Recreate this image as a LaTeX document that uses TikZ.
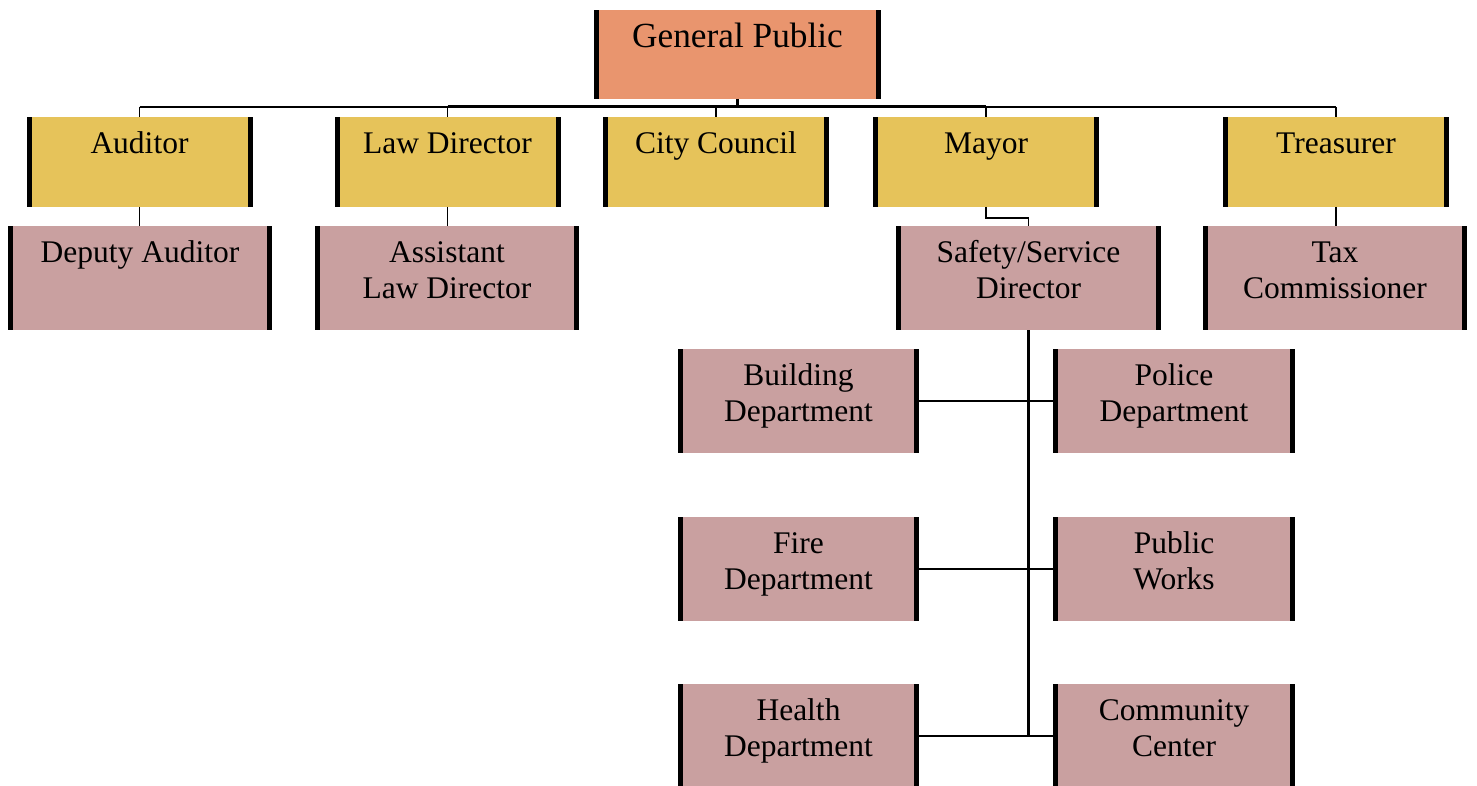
\documentclass[tikz,border=0pt]{standalone}
\usepackage{fontspec}
\setmainfont{Liberation Serif}
\definecolor{gpfill}{HTML}{E9956E}
\definecolor{offfill}{HTML}{E6C35A}
\definecolor{subfill}{HTML}{C9A0A0}
\begin{document}
\begin{tikzpicture}[x=1pt, y=-1pt,
  box/.style={inner sep=0pt, outer sep=0pt, draw=none},
  topbox/.style={box, fill=gpfill, minimum width=287pt, minimum height=89pt},
  offbox/.style={box, fill=offfill, minimum width=226pt, minimum height=90pt},
  subbox/.style={box, fill=subfill, minimum width=264pt, minimum height=104pt},
  deptbox/.style={box, fill=subfill, minimum width=241pt, minimum height=104pt},
  boxtext/.style={anchor=north, yshift=-14pt, inner sep=0pt, align=center,
    font=\fontsize{31.5}{36}\selectfont},
  toptext/.style={anchor=north, yshift=-13pt, inner sep=0pt, align=center,
    font=\fontsize{35.3}{40}\selectfont},
  thinline/.style={line width=1.6pt},
  thickline/.style={line width=3pt},
  midline/.style={line width=2pt}]
\useasboundingbox (0,0) rectangle (1477,786);
\fill[white] (0,0) rectangle (1477,786);

% top level
\node[topbox, label={[toptext]north:{\rule{0pt}{24pt}General Public}}] (gp) at (737.5,54.5) {};

% elected offices
\node[offbox, label={[boxtext]north:{\rule{0pt}{22pt}Auditor}}] (aud) at (139.5,162) {};
\node[offbox, label={[boxtext]north:{\rule{0pt}{22pt}Law Director}}] (law) at (447.5,162) {};
\node[offbox, label={[boxtext]north:{\rule{0pt}{22pt}City Council}}] (city) at (716,162) {};
\node[offbox, label={[boxtext]north:{\rule{0pt}{22pt}Mayor}}] (mayor) at (986,162) {};
\node[offbox, label={[boxtext]north:{\rule{0pt}{22pt}Treasurer}}] (treas) at (1336,162) {};

% deputies
\node[subbox, label={[boxtext]north:{\rule{0pt}{22pt}Deputy Auditor}}] (dep) at (140,278) {};
\node[subbox, label={[boxtext]north:{\rule{0pt}{22pt}Assistant\\Law Director}}] (asst) at (447,278) {};
\node[subbox, minimum width=265pt, label={[boxtext]north:{\rule{0pt}{22pt}Safety/Service\\Director}}] (safety) at (1028.5,278) {};
\node[subbox, label={[boxtext]north:{\rule{0pt}{22pt}Tax\\Commissioner}}] (tax) at (1335,278) {};

% departments
\node[deptbox, label={[boxtext]north:{\rule{0pt}{22pt}Building\\Department}}] (bldg) at (798.5,401) {};
\node[deptbox, minimum width=242pt, label={[boxtext]north:{\rule{0pt}{22pt}Police\\Department}}] (police) at (1174,401) {};
\node[deptbox, label={[boxtext]north:{\rule{0pt}{22pt}Fire\\Department}}] (fire) at (798.5,569) {};
\node[deptbox, minimum width=242pt, label={[boxtext]north:{\rule{0pt}{22pt}Public\\Works}}] (works) at (1174,569) {};
\node[deptbox, label={[boxtext]north:{\rule{0pt}{22pt}Health\\Department}}] (health) at (798.5,736) {};
\node[deptbox, minimum width=242pt, label={[boxtext]north:{\rule{0pt}{22pt}Community\\Center}}] (comm) at (1174,736) {};

% black side bars on every box
\foreach \n in {gp,aud,law,city,mayor,treas,dep,asst,safety,tax,bldg,police,fire,works,health,comm}{
  \fill[black] (\n.north west) rectangle ([xshift=5pt]\n.south west);
  \fill[black] ([xshift=-5pt]\n.north east) rectangle (\n.south east);
}

% bus under the general public
\coordinate (bus) at (0,107);
\draw[thickline] (gp.south) -- (gp.south |- bus);
\draw[thinline] (aud.north |- bus) -- (law.north |- bus);
\draw[thickline] (law.north |- bus) -- (mayor.north |- bus);
\draw[thinline] (mayor.north |- bus) -- (treas.north |- bus);
\foreach \n in {aud,law,city,mayor,treas}{
  \draw[thinline] (\n.north |- bus) -- (\n.north);
}

% offices to deputies
\draw[thinline] (aud.south) -- (aud.south |- dep.north);
\draw[thinline] (law.south) -- (law.south |- asst.north);
\draw[thinline] (mayor.south) -- ++(0,11) -| (safety.north);
\draw[thinline] (treas.south) -- (treas.south |- tax.north);

% safety/service director to departments
\draw[thickline] (safety.south) -- (safety.south |- health.east);
\draw[midline] (bldg.east) -- (police.west);
\draw[midline] (fire.east) -- (works.west);
\draw[midline] (health.east) -- (comm.west);
\end{tikzpicture}
\end{document}
